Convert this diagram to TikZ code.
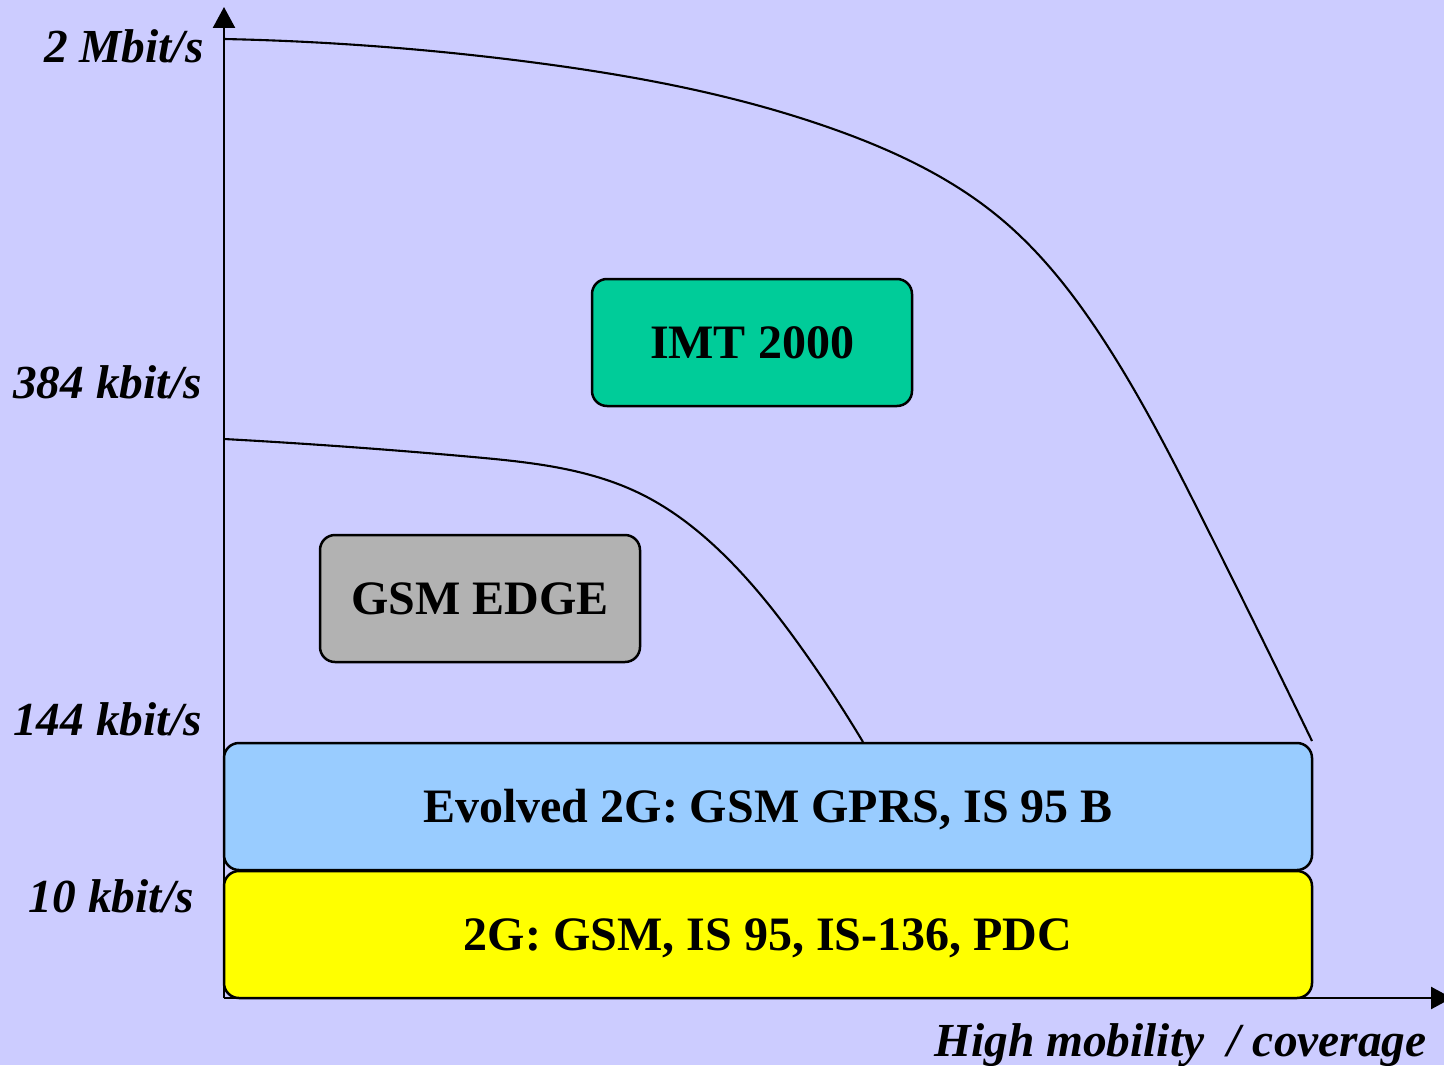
\documentclass[tikz,border=0pt]{standalone}
\usepackage{fontspec}
\setmainfont{Liberation Serif}
\usetikzlibrary{arrows.meta,hobby}

\definecolor{bgcol}{HTML}{CCCCFF}
\definecolor{gencol}{HTML}{FFFF00}
\definecolor{evocol}{HTML}{99CCFF}
\definecolor{imtcol}{HTML}{00CC99}
\definecolor{edgecol}{HTML}{B2B2B2}

\tikzset{
  techbox/.style={draw=black, line width=1.25pt, rounded corners=7.5pt,
    font=\fontsize{24}{28}\selectfont\bfseries, inner sep=0pt,
    text height=16pt, text depth=0pt},
  ratelabel/.style={anchor=base east, inner sep=0pt,
    font=\fontsize{23.7}{28}\selectfont\bfseries\itshape},
  axisline/.style={line width=1.2pt, -{Triangle[length=10.5pt,width=11pt]}},
  boundary/.style={line width=1.05pt, use Hobby shortcut}
}

\begin{document}
\begin{tikzpicture}[x=0.5pt, y=-0.5pt]
  % canvas
  \useasboundingbox (0,0) rectangle (1444,1065);
  \fill[bgcol] (0,0) rectangle (1444,1065);

  % axes
  \coordinate (origin) at (224,998);
  \coordinate (ytip) at (224,7);
  \coordinate (xtip) at (1452,998);
  \draw[axisline] (origin) -- (ytip);
  \draw[axisline] (origin) -- (xtip);

  % coverage boundaries
  \coordinate (imtstart) at (224,39);
  \coordinate (imtend) at (1312,741);
  \coordinate (edgestart) at (224,439);
  \coordinate (edgeend) at (863,742);
  \draw[boundary] (imtstart) .. (530,62) .. (836,130) .. (1000,218)
    .. (1101,336) .. (1202,518) .. (imtend);
  \draw[boundary] (edgestart) .. (473,457) .. (639,493) .. (722,553)
    .. (805,653) .. (edgeend);

  % technology boxes
  \node[techbox, fill=gencol, minimum width=544pt, minimum height=63.5pt]
    (gen2) at (768,934.5) {2G: GSM, IS 95, IS-136, PDC};
  \node[techbox, fill=evocol, minimum width=544pt, minimum height=63.5pt]
    (evo2) at (768,806.5) {Evolved 2G: GSM GPRS, IS 95 B};
  \node[techbox, fill=imtcol, minimum width=160pt, minimum height=63.5pt]
    (imt) at (752,342.5) {IMT 2000};
  \node[techbox, fill=edgecol, minimum width=160pt, minimum height=63.5pt]
    (edge) at (480,598.5) {GSM EDGE};

  % axis labels
  \node[ratelabel] (r2m) at (204,63) {2 Mbit/s};
  \node[ratelabel] (r384) at (202,398) {384 kbit/s};
  \node[ratelabel] (r144) at (202,735) {144 kbit/s};
  \node[ratelabel] (r10) at (194,912) {10 kbit/s};
  \node[ratelabel] (xlab) at (1427,1056) {High mobility\ \ / coverage};
\end{tikzpicture}
\end{document}
